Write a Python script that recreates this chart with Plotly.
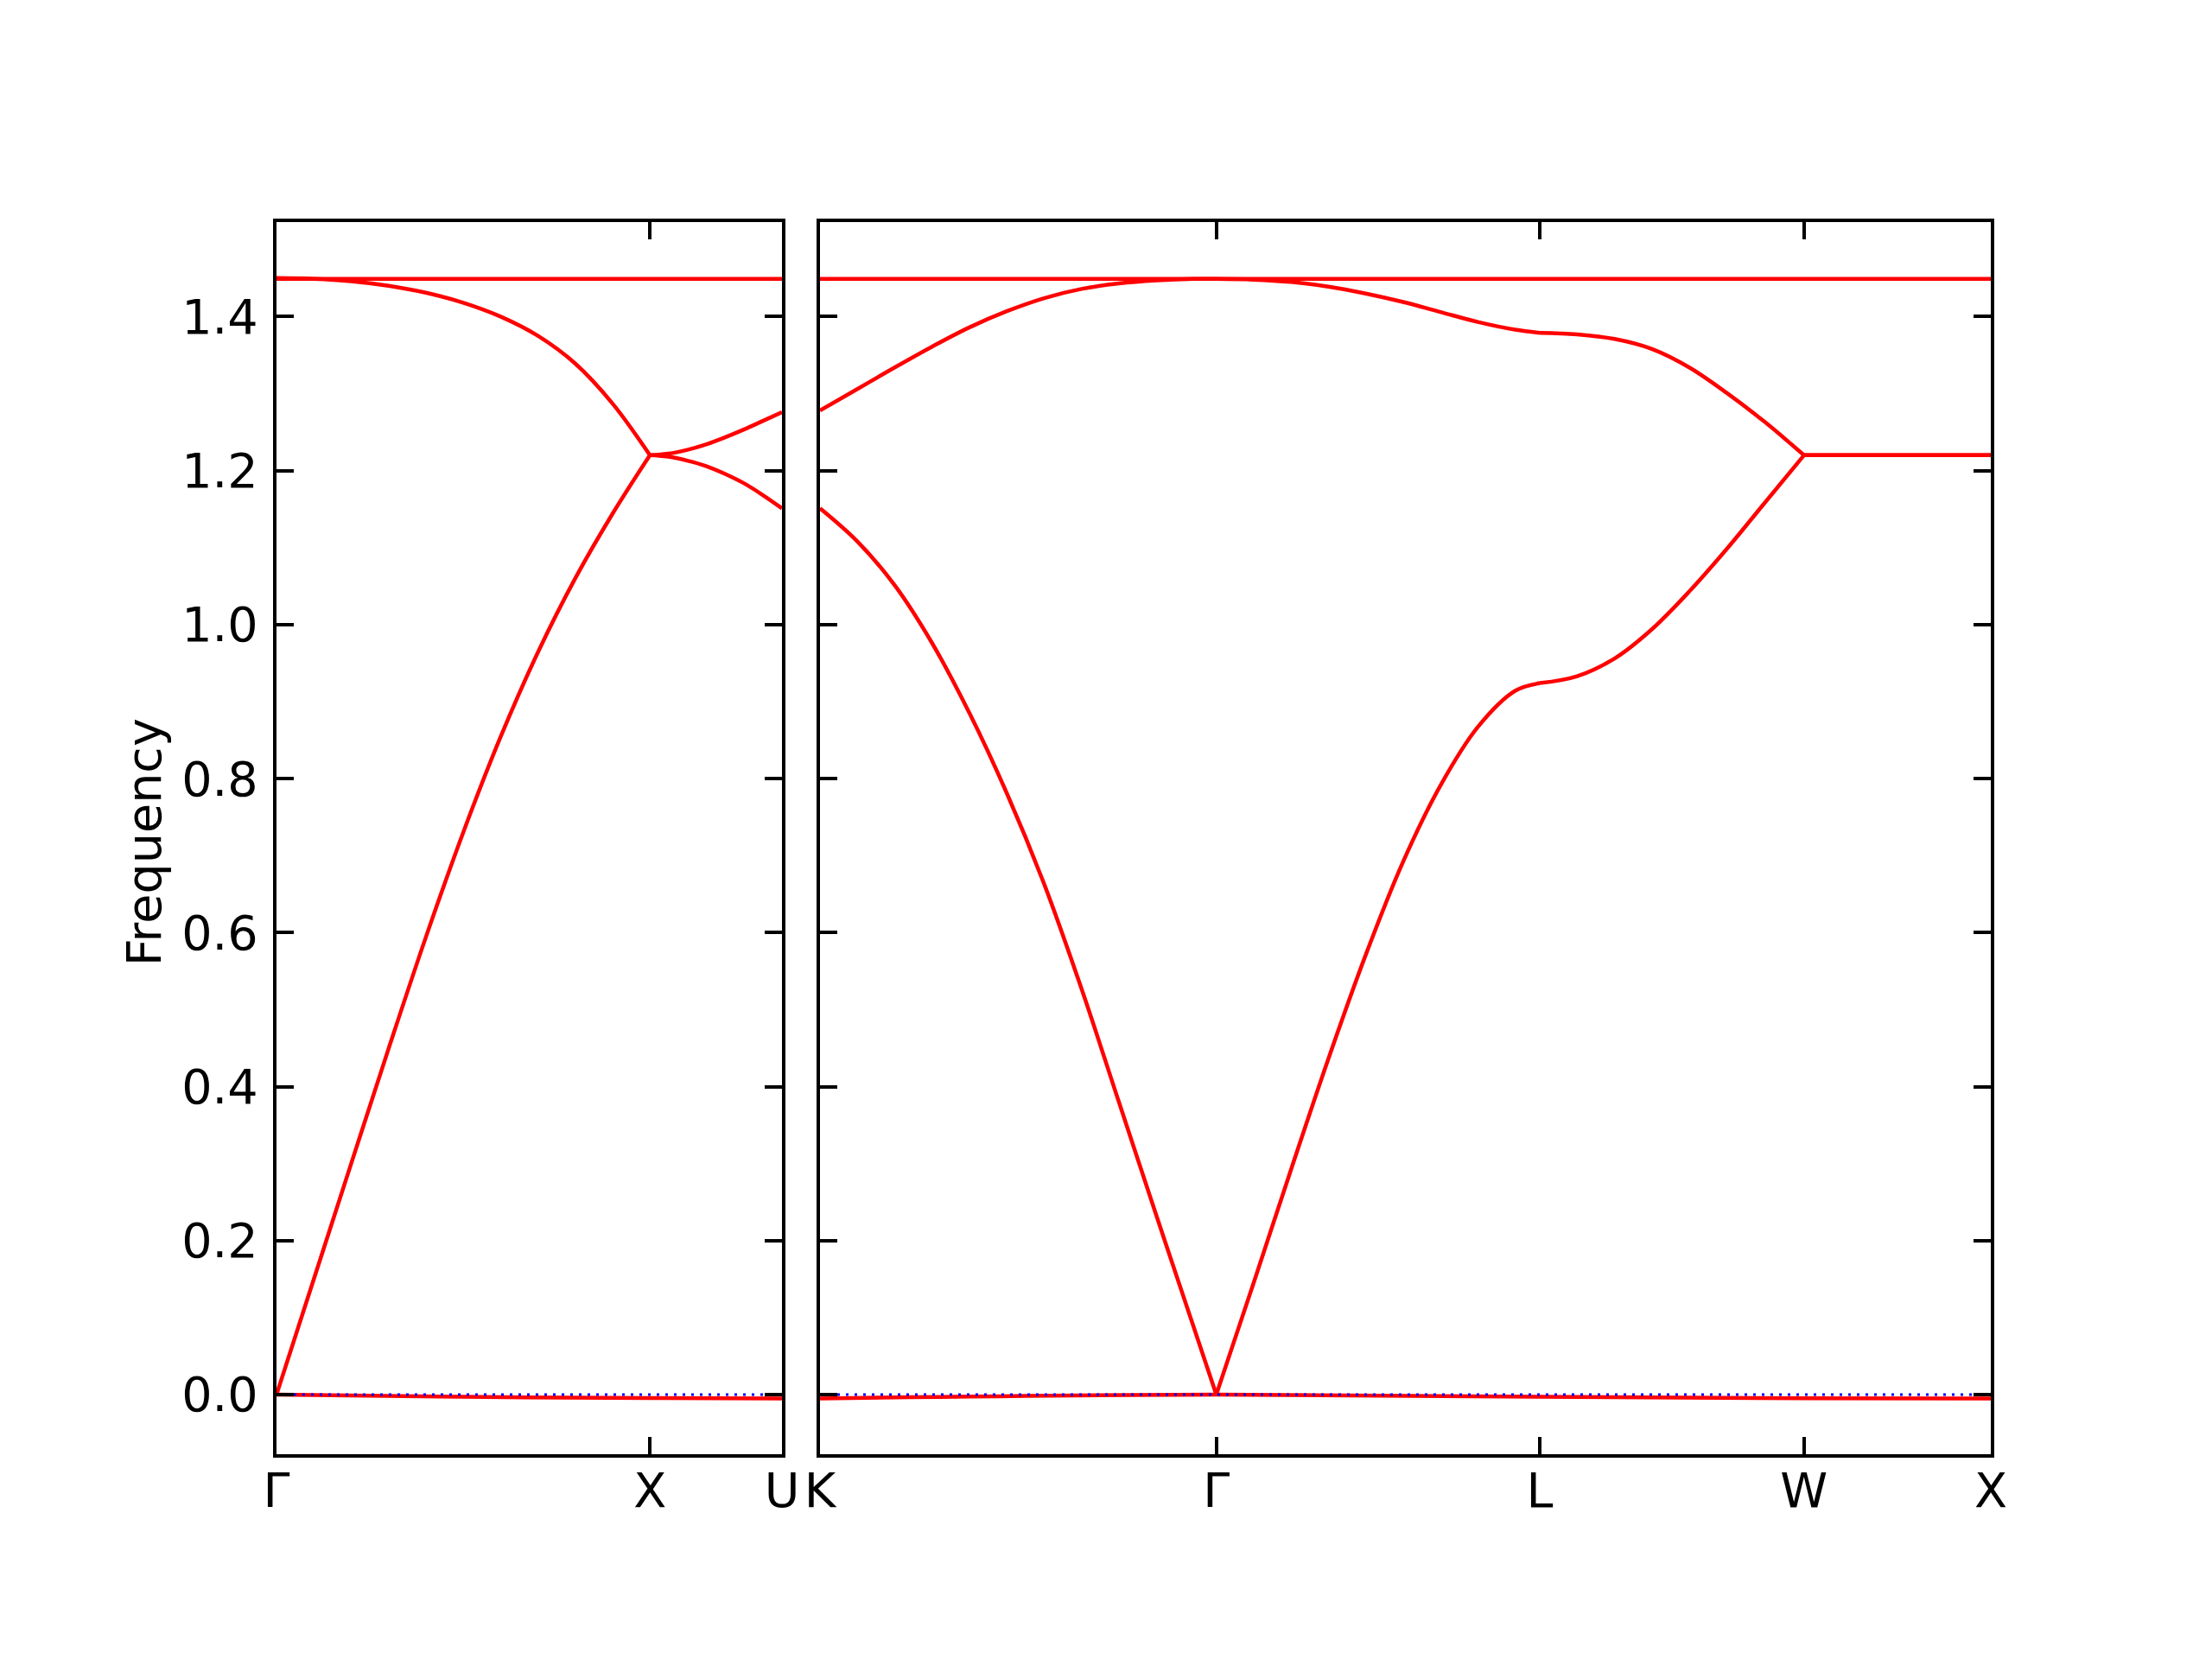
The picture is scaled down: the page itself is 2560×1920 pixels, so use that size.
import plotly.graph_objects as go

# ---------------- data ----------------
# Left panel path: Gamma - X - U
left_sym_k = [0.0, 1.0, 1.3536]
left_sym_labels = ["Γ", "X", "U"]

GX_k = [0.0, 0.1, 0.2, 0.3, 0.4, 0.5, 0.6, 0.7, 0.8, 0.9, 1.0]
GX_band2 = [0.0, 0.150, 0.300, 0.449, 0.594, 0.730, 0.854, 0.964, 1.060, 1.144, 1.220]
GX_band3 = [1.450, 1.449, 1.446, 1.440, 1.431, 1.418, 1.400, 1.375, 1.339, 1.287, 1.220]

XU_k = [1.0, 1.05, 1.1, 1.15, 1.2, 1.25, 1.3, 1.3536]
XU_band3 = [1.220, 1.222, 1.227, 1.234, 1.243, 1.253, 1.264, 1.276]
XU_band2 = [1.220, 1.218, 1.213, 1.206, 1.196, 1.184, 1.169, 1.151]

left_top_band = [1.449, 1.449, 1.449]
left_low_k = [0.0, 0.5, 1.0, 1.3536]
left_low_band = [0.0, -0.003, -0.0045, -0.005]

# Right panel path: K - Gamma - L - W - X
right_sym_k = [0.0, 1.0607, 1.9267, 2.6338, 3.1338]
right_sym_labels = ["K", "Γ", "L", "W", "X"]

KG_k = [0.0, 0.1, 0.2, 0.3, 0.4, 0.5, 0.6, 0.7, 0.8, 0.9, 1.0, 1.0607]
KG_band3 = [1.278, 1.306, 1.334, 1.361, 1.386, 1.407, 1.424, 1.436, 1.443, 1.447, 1.449, 1.449]
KG_band2 = [1.151, 1.108, 1.051, 0.976, 0.885, 0.781, 0.663, 0.527, 0.380, 0.233, 0.088, 0.0]

GL_k = [1.0607, 1.1607, 1.2607, 1.3607, 1.4607, 1.5607, 1.6607, 1.7607, 1.8607, 1.9267]
GL_band3 = [1.449, 1.448, 1.445, 1.439, 1.430, 1.419, 1.406, 1.393, 1.383, 1.379]
GL_band2 = [0.0, 0.145, 0.292, 0.436, 0.571, 0.692, 0.791, 0.867, 0.914, 0.924]

LW_k = [1.9267, 2.0267, 2.1267, 2.2267, 2.3267, 2.4267, 2.5267, 2.6338]
LW_band3 = [1.379, 1.377, 1.371, 1.358, 1.334, 1.301, 1.264, 1.220]
LW_band2 = [0.924, 0.933, 0.956, 0.994, 1.043, 1.098, 1.157, 1.220]

WX_k = [2.6338, 3.1338]
WX_band3 = [1.220, 1.220]
WX_band2 = [1.220, 1.220]

right_top_band = [1.449, 1.449, 1.449, 1.449, 1.449]
right_low_band = [-0.005, 0.0, -0.003, -0.0048, -0.005]

y_ticks = [0.0, 0.2, 0.4, 0.6, 0.8, 1.0, 1.2, 1.4]
y_range = [-0.0775, 1.5228]

# ---------------- figure ----------------
W, H = 2560, 1920
RED = "#ff0000"
LW = 4.5
FONT = "DejaVu Sans"
FS = 55.6

fig = go.Figure()


def band(x, y, xa, ya, shape="spline"):
    fig.add_trace(go.Scatter(x=x, y=y, mode="lines", xaxis=xa, yaxis=ya,
                             line=dict(color=RED, width=LW, shape=shape),
                             hoverinfo="skip", showlegend=False))


def zero_line(xr, xa, ya):
    fig.add_trace(go.Scatter(x=[xr[0], xr[-1]], y=[0, 0], mode="lines", xaxis=xa, yaxis=ya,
                             line=dict(color="blue", width=3, dash="3px,7px"),
                             hoverinfo="skip", showlegend=False))


# left panel
band(GX_k, GX_band2, "x", "y")
band(GX_k, GX_band3, "x", "y")
band(XU_k, XU_band2, "x", "y")
band(XU_k, XU_band3, "x", "y")
band(left_sym_k, left_top_band, "x", "y", "linear")
band(left_low_k, left_low_band, "x", "y")
zero_line(left_sym_k, "x", "y")

# right panel
for kk, b2, b3 in [(KG_k, KG_band2, KG_band3), (GL_k, GL_band2, GL_band3),
                   (LW_k, LW_band2, LW_band3), (WX_k, WX_band2, WX_band3)]:
    band(kk, b2, "x2", "y2")
    band(kk, b3, "x2", "y2")
band(right_sym_k, right_top_band, "x2", "y2", "linear")
band(right_sym_k, right_low_band, "x2", "y2")
zero_line(right_sym_k, "x2", "y2")

axis_common = dict(showline=True, linecolor="black", linewidth=4.4, mirror="ticks",
                   ticks="inside", ticklen=19.5, tickwidth=4.4, tickcolor="black",
                   showgrid=False, zeroline=False, automargin=False,
                   tickfont=dict(family=FONT, size=FS, color="black"))

x_left_dom = [320 / W, 905 / W]
x_right_dom = [949 / W, 2304 / W]
y_dom = [1 - 1683 / H, 1 - 257 / H]

fig.update_layout(
    width=W, height=H,
    margin=dict(l=0, r=0, t=0, b=0, pad=0, autoexpand=False),
    paper_bgcolor="white", plot_bgcolor="white",
    font=dict(family=FONT, size=FS, color="black"),
    xaxis=dict(domain=x_left_dom, range=[left_sym_k[0], left_sym_k[-1]],
               tickvals=left_sym_k, ticktext=left_sym_labels, anchor="y",
               ticklabelstandoff=-10, **axis_common),
    yaxis=dict(domain=y_dom, range=y_range, tickvals=y_ticks, tickformat=".1f",
               anchor="x", ticklabelstandoff=6, **axis_common),
    xaxis2=dict(domain=x_right_dom, range=[right_sym_k[0], right_sym_k[-1]],
                tickvals=right_sym_k, ticktext=right_sym_labels, anchor="y2",
                ticklabelstandoff=-10, **axis_common),
    yaxis2=dict(domain=y_dom, range=y_range, tickvals=y_ticks, showticklabels=False,
                anchor="x2", **axis_common),
    annotations=[dict(text="Frequency", x=166 / W, y=0.492, xref="paper", yref="paper",
                      textangle=-90, showarrow=False, xanchor="center", yanchor="middle",
                      font=dict(family=FONT, size=FS, color="black"))],
)

fig.write_html("out.html", config={"displayModeBar": False},
               post_script="document.body.style.margin='0';document.body.style.overflow='hidden';")
